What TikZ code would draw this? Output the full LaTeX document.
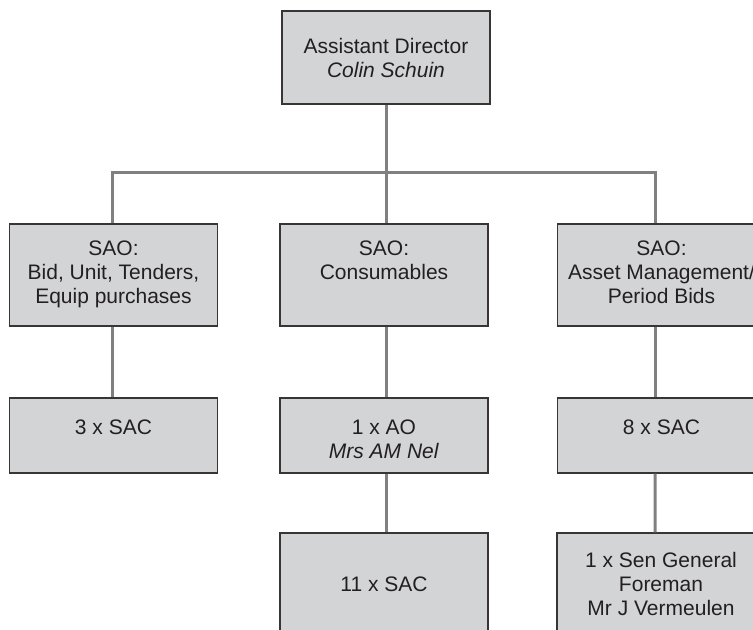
\documentclass[tikz,border=0pt]{standalone}
\usepackage{fontspec}
\setmainfont{Liberation Sans}
\usepackage{tikz}
\definecolor{boxgray}{HTML}{D3D4D6}
\definecolor{linkgray}{HTML}{808083}
\definecolor{inkgray}{HTML}{231F20}
\newcommand{\lowfirst}{\rule{0pt}{30bp}}

\begin{document}
\begin{tikzpicture}[x=1bp, y=-1bp,
		post/.style={draw=inkgray!90, line width=1.1bp, fill=boxgray, text=inkgray,
			align=center, inner sep=0pt, minimum width=208bp,
			font=\fontsize{21bp}{24bp}\selectfont},
		link/.style={draw=linkgray, line width=3bp}]
				\useasboundingbox (0,0) rectangle (753,630);
				% top
				\node[post, minimum height=93bp] (dir) at (386,57.5) {Assistant Director\\\textit{Colin Schuin}};
				% SAO row
				\node[post, minimum height=102bp] (saoA) at (113.5,275) {\strut SAO:\\Bid, Unit, Tenders,\\Equip purchases\strut};
				\node[post, minimum height=102bp] (saoB) at (384,275) {\strut SAO:\\Consumables\\\strut};
				\node[post, minimum height=102bp] (saoC) at (661.5,275) {\strut SAO:\\Asset Management/\\Period Bids\strut};
				% staff
				\node[post, minimum height=75bp] (sacA) at (113.5,435.5) {\lowfirst 3 x SAC\\\strut};
				\node[post, minimum height=75bp] (aoB) at (384,435.5) {\lowfirst 1 x AO\\\textit{Mrs AM Nel}\strut};
				\node[post, minimum height=75bp] (sacC) at (661.5,435.5) {\lowfirst 8 x SAC\\\strut};
				\node[post, minimum height=102bp] (sacB) at (384,584) {11 x SAC};
				\node[post, minimum height=102bp] (foreC) at (661,584) {1 x Sen General\\Foreman\\Mr J Vermeulen};
				% lines
				\coordinate (bar) at (386,173);
				\draw[link] (dir.south) -- (dir.south |- saoB.north);
				\draw[link] ([xshift=-1.5bp]saoA.north) |- (bar) -| ([xshift=-6.5bp]saoC.north);
				\draw[link] ([xshift=-1.5bp]saoA.south) -- ([xshift=-1.5bp]sacA.north);
				\draw[link] ([xshift=2bp]saoB.south) -- ([xshift=2bp]aoB.north);
				\draw[link] ([xshift=2bp]aoB.south) -- ([xshift=2bp]sacB.north);
				\draw[link] ([xshift=-6.5bp]saoC.south) -- ([xshift=-6.5bp]sacC.north);
				\draw[link] ([xshift=-6.5bp]sacC.south) -- ([xshift=-6bp]foreC.north);
\end{tikzpicture}
\end{document}
